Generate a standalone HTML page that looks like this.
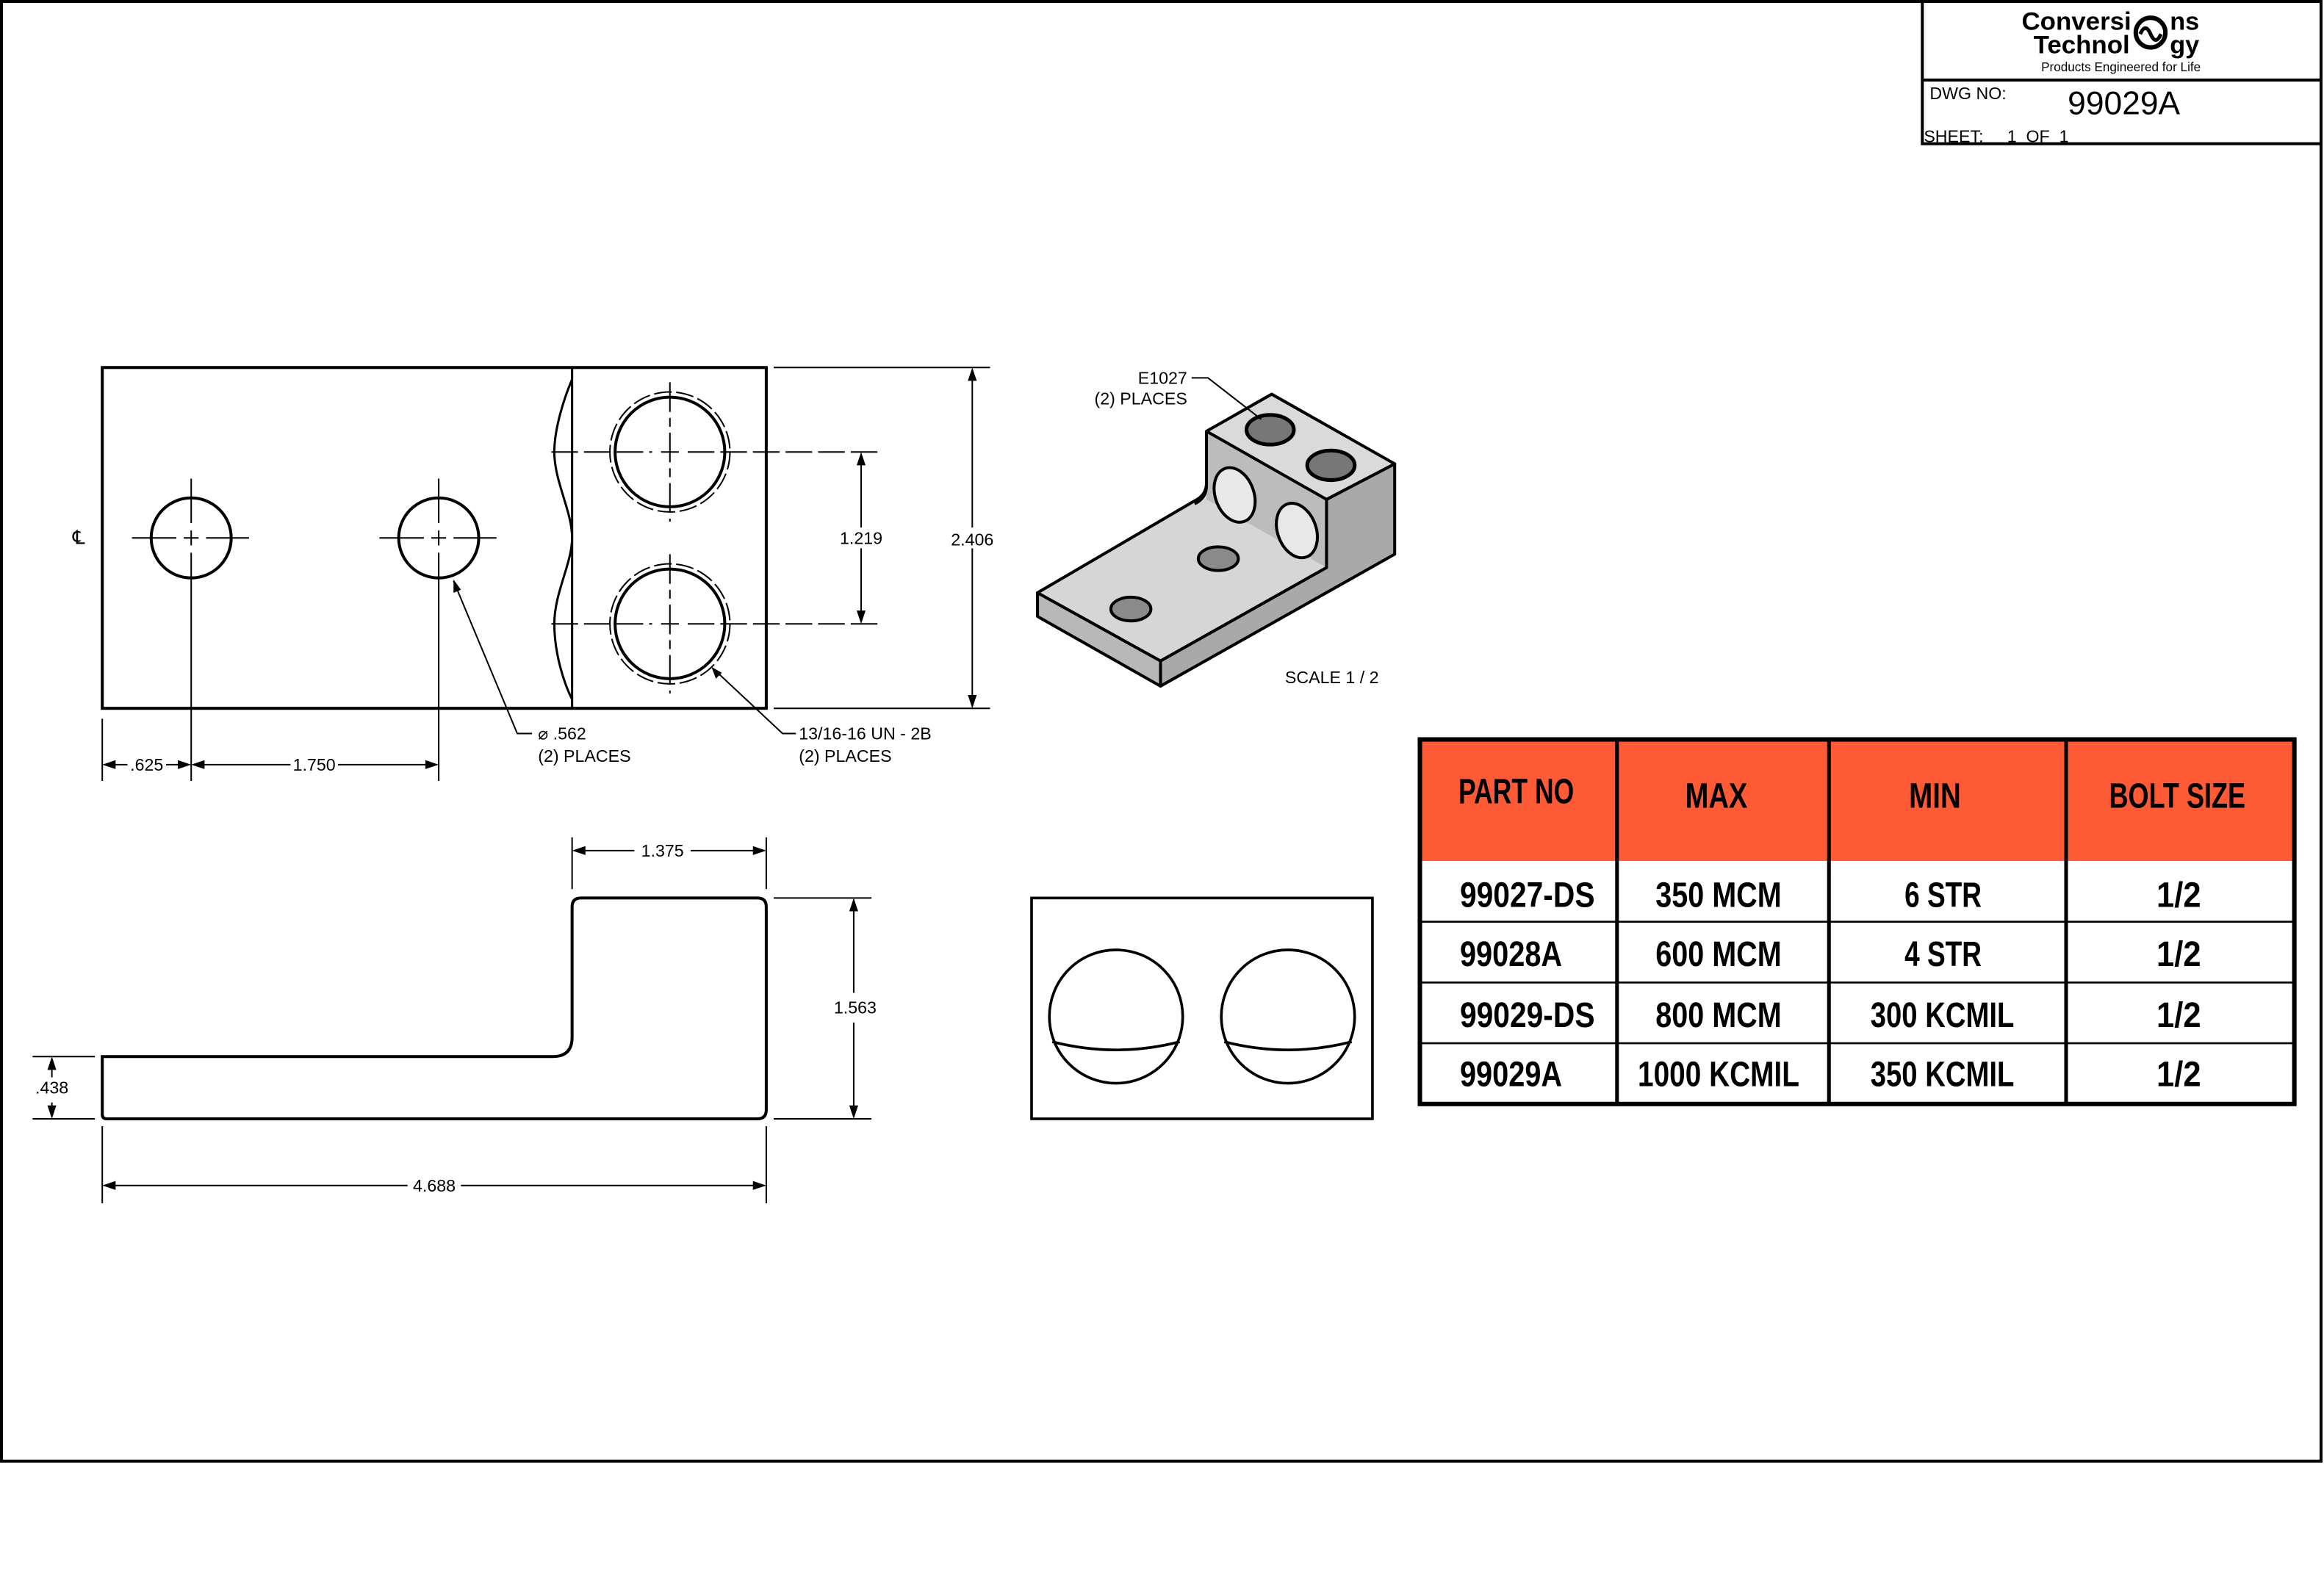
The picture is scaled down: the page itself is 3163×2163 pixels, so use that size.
<!DOCTYPE html>
<html><head><meta charset="utf-8"><style>
html,body{margin:0;padding:0;background:#fff}
svg{display:block}
text{font-family:"Liberation Sans",sans-serif;fill:#000}
.n{font-family:"Liberation Sans Narrow","Liberation Sans",sans-serif;font-weight:bold;font-size:24px}
.d{font-size:11.5px}
</style></head><body>
<svg width="3163" height="2163" viewBox="0 0 1568 1072.3" preserveAspectRatio="none" xmlns="http://www.w3.org/2000/svg">
<rect x="0" y="0" width="1568" height="1072.3" fill="#fff"/>
<rect x="1" y="1" width="1565" height="985" fill="none" stroke="#000" stroke-width="2"/>
<!-- title block -->
<path d="M1297,1 V97 H1566 M1297,54 H1566" fill="none" stroke="#000" stroke-width="2"/>
<text x="1364" y="20" font-size="17" font-weight="bold" textLength="74" lengthAdjust="spacingAndGlyphs">Conversi</text>
<circle cx="1451" cy="22" r="10" fill="none" stroke="#000" stroke-width="3"/>
<path d="M1444,23 q3.5,-8 7,0 t7,0" fill="none" stroke="#000" stroke-width="2.5"/>
<text x="1464" y="20" font-size="17" font-weight="bold">ns</text>
<text x="1372" y="36" font-size="17" font-weight="bold" textLength="65" lengthAdjust="spacingAndGlyphs">Technol</text>
<text x="1464" y="36" font-size="17" font-weight="bold">gy</text>
<text x="1431" y="48" font-size="8.5" text-anchor="middle">Products Engineered for Life</text>
<text x="1302" y="67" font-size="11.5">DWG NO:</text>
<text x="1433" y="77" font-size="22" text-anchor="middle">99029A</text>
<text x="1298" y="96" font-size="11.5">SHEET:&#160;&#160;&#160;&#160;&#160;1&#160;&#160;OF&#160;&#160;1</text>

<!-- top view -->
<g fill="none" stroke="#000">
<rect x="69" y="248" width="448" height="230" stroke-width="2"/>
<path d="M386,248 V478" stroke-width="1.5"/>
<path d="M386,256 C380,270 374,290 374,305 C374,325 386,345 386,363 C386,380 374,400 374,421 C374,440 380,460 386,472" stroke-width="1.5"/>
<circle cx="129" cy="363" r="27" stroke-width="2"/>
<circle cx="296" cy="363" r="27" stroke-width="2"/>
<circle cx="452" cy="305" r="37" stroke-width="2"/>
<circle cx="452" cy="421" r="37" stroke-width="2"/>
<circle cx="452" cy="305" r="40.5" stroke-width="1" stroke-dasharray="12,3"/>
<circle cx="452" cy="421" r="40.5" stroke-width="1" stroke-dasharray="12,3"/>
<g stroke-width="1">
<path d="M89,363 H119 M124,363 H134 M139,363 H168 M129,323 V353 M129,358 V368 M129,373 V527"/>
<path d="M256,363 H286 M291,363 H301 M306,363 H335 M296,323 V353 M296,358 V368 M296,373 V527"/>
<path d="M372,305 H440 M446,305 H458 M464,305 H593" stroke-dasharray="18,4"/>
<path d="M372,421 H440 M446,421 H458 M464,421 H593" stroke-dasharray="18,4"/>
<path d="M452,258 V352 M452,374 V468" stroke-dasharray="20,4,6,4"/>
<path d="M522,248 H668 M522,478 H668"/>
<path d="M581,311 V415 M656,254 V472"/>
<path d="M69,485 V527 M75,516 H86 M112,516 H123 M135,516 H196 M228,516 H290"/>
<path d="M306,392 L349,495 H359 M481,451 L528,495 H537"/>
</g>
</g>
<g fill="#000">
<path d="M581,305 l-3,9 h6z M581,421 l-3,-9 h6z M656,248 l-3,9 h6z M656,478 l-3,-9 h6z"/>
<path d="M69,516 l9,-3 v6z M129,516 l-9,-3 v6z M129,516 l9,-3 v6z M296,516 l-9,-3 v6z"/>
<path d="M306,391 l0,9 l5,-2z M480,450 l3,8 l4,-4z"/>
</g>
<rect x="576" y="356" width="12" height="14" fill="#fff"/>
<rect x="650" y="356" width="12" height="14" fill="#fff"/>
<text class="d" x="581" y="367" text-anchor="middle">1.219</text>
<text class="d" x="656" y="368" text-anchor="middle">2.406</text>
<text class="d" x="99" y="520" text-anchor="middle">.625</text>
<text class="d" x="212" y="520" text-anchor="middle">1.750</text>
<text class="d" x="363" y="499">⌀ .562</text>
<text class="d" x="363" y="514">(2) PLACES</text>
<text class="d" x="539" y="499">13/16-16 UN - 2B</text>
<text class="d" x="539" y="514">(2) PLACES</text>
<text x="49" y="367" font-size="13">℄</text>

<!-- side view -->
<g fill="none" stroke="#000">
<path d="M69,713 H373 Q386,713 386,700 V612 Q386,606 392,606 H511 Q517,606 517,612 V749 Q517,755 511,755 H72 Q69,755 69,752 Z" stroke-width="2"/>
<g stroke-width="1">
<path d="M386,565 V600 M517,565 V600 M392,574 H428 M466,574 H511"/>
<path d="M522,606 H588 M522,755 H588 M576,612 V670 M576,690 V749"/>
<path d="M22,713 H64 M22,755 H64 M35,719 V727 M35,744 V749"/>
<path d="M69,760 V812 M517,760 V812 M75,800 H275 M311,800 H511"/>
</g>
</g>
<g fill="#000">
<path d="M386,574 l9,-3 v6z M517,574 l-9,-3 v6z M576,606 l-3,9 h6z M576,755 l-3,-9 h6z M35,713 l-3,9 h6z M35,755 l-3,-9 h6z M69,800 l9,-3 v6z M517,800 l-9,-3 v6z"/>
</g>
<text class="d" x="447" y="578" text-anchor="middle">1.375</text>
<text class="d" x="577" y="684" text-anchor="middle">1.563</text>
<text class="d" x="35" y="738" text-anchor="middle">.438</text>
<text class="d" x="293" y="804" text-anchor="middle">4.688</text>

<!-- detail box -->
<g fill="none" stroke="#000" stroke-width="1.8">
<rect x="696" y="606" width="230" height="149"/>
<circle cx="753" cy="686" r="45"/>
<circle cx="869" cy="686" r="45"/>
<path d="M710,703 Q753,714 796,703 M826,703 Q869,714 912,703"/>
</g>

<!-- isometric -->
<g stroke="#000" stroke-width="2" stroke-linejoin="round">
<path d="M783,446 L895,383 L895,337 L941,313 L941,374 L783,463 Z" fill="#a9a9a9"/>
<path d="M700,400 L783,446 L783,463 L700,416 Z" fill="#b8b8b8"/>
<path d="M700,400 L806,338 Q814,334 814,326 L895,372 L895,383 L783,446 Z" fill="#d6d6d6"/>
<path d="M814,291 L895,337 L895,383 L814,337 Z" fill="#bcbcbc" stroke="none"/>
<path d="M814,291 V328 Q814,336 806,340 M895,337 V383" fill="none"/>
<path d="M814,291 L858,266 L941,313 L895,337 Z" fill="#dadada"/>
<ellipse cx="833" cy="334" rx="13" ry="19" transform="rotate(-20 833 334)" fill="#e8e8e8"/>
<ellipse cx="875" cy="358" rx="13" ry="19" transform="rotate(-20 875 358)" fill="#e8e8e8"/>
<ellipse cx="822" cy="377" rx="13.5" ry="8" fill="#8a8a8a"/>
<ellipse cx="763" cy="411" rx="13.5" ry="8" fill="#8a8a8a"/>
<ellipse cx="857" cy="290" rx="16" ry="10" fill="#777" stroke-width="2.5"/>
<ellipse cx="898" cy="314" rx="16" ry="10" fill="#777" stroke-width="2.5"/>
</g>
<path d="M804,255 H815 L851,283" fill="none" stroke="#000" stroke-width="1"/>
<text class="d" x="801" y="259" text-anchor="end">E1027</text>
<text class="d" x="801" y="273" text-anchor="end">(2) PLACES</text>
<text class="d" x="867" y="461">SCALE 1 / 2</text>

<!-- table -->
<rect x="957" y="498" width="592" height="83" fill="#ff5a36"/>
<g stroke="#000" fill="none">
<rect x="958" y="499" width="590" height="246" stroke-width="3"/>
<path d="M1091,499 V745 M1234,499 V745 M1394,499 V745" stroke-width="2.5"/>
<path d="M958,622 H1548 M958,663 H1548 M958,704 H1548" stroke-width="1.3"/>
</g>
<g>
<text class="n" x="984" y="542" textLength="78" lengthAdjust="spacingAndGlyphs">PART NO</text>
<text class="n" x="1137" y="545" textLength="42" lengthAdjust="spacingAndGlyphs">MAX</text>
<text class="n" x="1288" y="545" textLength="35" lengthAdjust="spacingAndGlyphs">MIN</text>
<text class="n" x="1423" y="545" textLength="92" lengthAdjust="spacingAndGlyphs">BOLT SIZE</text>
<text class="n" x="985" y="612" textLength="91" lengthAdjust="spacingAndGlyphs">99027-DS</text>
<text class="n" x="985" y="652" textLength="69" lengthAdjust="spacingAndGlyphs">99028A</text>
<text class="n" x="985" y="693" textLength="91" lengthAdjust="spacingAndGlyphs">99029-DS</text>
<text class="n" x="985" y="733" textLength="69" lengthAdjust="spacingAndGlyphs">99029A</text>
<text class="n" x="1117" y="612" textLength="85" lengthAdjust="spacingAndGlyphs">350 MCM</text>
<text class="n" x="1117" y="652" textLength="85" lengthAdjust="spacingAndGlyphs">600 MCM</text>
<text class="n" x="1117" y="693" textLength="85" lengthAdjust="spacingAndGlyphs">800 MCM</text>
<text class="n" x="1105" y="733" textLength="109" lengthAdjust="spacingAndGlyphs">1000 KCMIL</text>
<text class="n" x="1285" y="612" textLength="52" lengthAdjust="spacingAndGlyphs">6 STR</text>
<text class="n" x="1285" y="652" textLength="52" lengthAdjust="spacingAndGlyphs">4 STR</text>
<text class="n" x="1262" y="693" textLength="97" lengthAdjust="spacingAndGlyphs">300 KCMIL</text>
<text class="n" x="1262" y="733" textLength="97" lengthAdjust="spacingAndGlyphs">350 KCMIL</text>
<text class="n" x="1455" y="612" textLength="30" lengthAdjust="spacingAndGlyphs">1/2</text>
<text class="n" x="1455" y="652" textLength="30" lengthAdjust="spacingAndGlyphs">1/2</text>
<text class="n" x="1455" y="693" textLength="30" lengthAdjust="spacingAndGlyphs">1/2</text>
<text class="n" x="1455" y="733" textLength="30" lengthAdjust="spacingAndGlyphs">1/2</text>
</g>
</svg>
</body></html>
